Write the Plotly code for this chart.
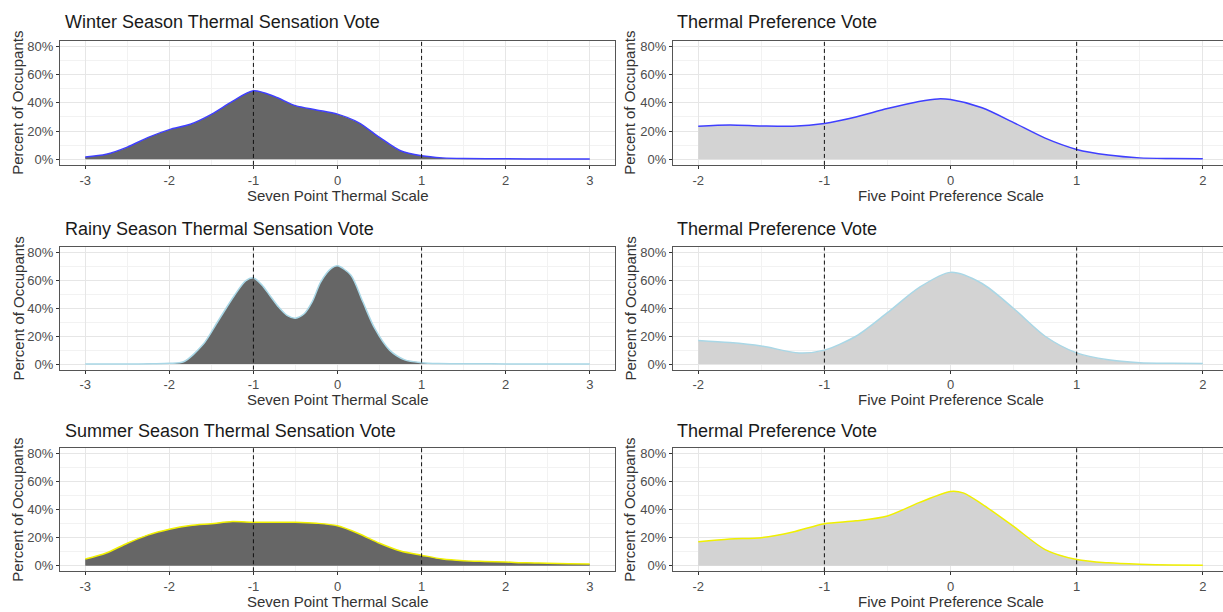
import plotly.graph_objects as go

# ---------------- data ----------------
# Seven point thermal sensation scale (left column)
winter_tsv_x = [-3, -2.75, -2.5, -2.25, -2, -1.75, -1.5, -1.25, -1, -0.75, -0.5, -0.25, 0,
                0.25, 0.5, 0.75, 1, 1.25, 1.5, 2, 2.5, 3]
winter_tsv_y = [1.6, 3.5, 8.6, 15.5, 21, 24.8, 31.8, 41, 48.5, 44.5, 38, 35, 32,
                26, 15.5, 6, 2.5, 1.0, 0.5, 0.3, 0.2, 0.2]

rainy_tsv_x = [-3, -2.5, -2.2, -2.0, -1.83, -1.6, -1.42, -1.23, -1.09, -1.0, -0.9, -0.8, -0.7,
               -0.6, -0.5, -0.4, -0.3, -0.2, -0.07, 0, 0.16, 0.3, 0.44, 0.62, 0.8, 1.0, 1.2, 2, 3]
rainy_tsv_y = [0, 0, 0.2, 0.5, 1.6, 14, 31, 49, 60, 62, 57, 49, 41,
               35, 33, 36, 45, 59, 69, 70.7, 64, 45, 26, 10, 3, 1.0, 0.4, 0.1, 0]

summer_tsv_x = [-3, -2.75, -2.5, -2.25, -2, -1.75, -1.5, -1.25, -1, -0.75, -0.5, -0.25, 0,
                0.25, 0.5, 0.75, 1, 1.25, 1.5, 1.75, 2, 2.25, 2.5, 2.75, 3]
summer_tsv_y = [4.7, 9, 16, 22, 26, 28.7, 30, 31.5, 31, 31, 31, 30.3, 28.5,
                23, 16, 10.5, 7.5, 4.7, 3.5, 3, 2.6, 2, 1.8, 1.4, 1.2]

# Five point thermal preference scale (right column)
winter_tpv_x = [-2, -1.75, -1.5, -1.25, -1, -0.75, -0.5, -0.25, -0.1, 0, 0.25, 0.5, 0.75,
                1, 1.25, 1.5, 1.75, 2]
winter_tpv_y = [23.4, 24.3, 23.6, 23.4, 25.4, 30, 36, 41, 42.8, 42.3, 36.5, 26, 15,
                7, 3, 1, 0.5, 0.3]

rainy_tpv_x = [-2, -1.75, -1.5, -1.2, -1, -0.75, -0.5, -0.25, 0, 0.25, 0.5, 0.75, 1,
               1.25, 1.5, 1.75, 2]
rainy_tpv_y = [17, 15.5, 13, 8, 10, 20, 37, 55, 66, 58, 40, 20, 8,
               3, 1, 0.5, 0.3]

summer_tpv_x = [-2, -1.75, -1.5, -1.25, -1, -0.75, -0.5, -0.25, 0, 0.1, 0.25, 0.5, 0.75,
                1, 1.25, 1.5, 1.75, 2]
summer_tpv_y = [17, 19, 20, 24, 30, 32, 35.5, 45, 53, 52, 44, 28, 11.5,
                4.4, 2, 1, 0.5, 0.3]

row_titles_left = ["Winter Season Thermal Sensation Vote",
                   "Rainy Season Thermal Sensation Vote",
                   "Summer Season Thermal Sensation Vote"]
row_title_right = "Thermal Preference Vote"
x_title_left = "Seven Point Thermal Scale"
x_title_right = "Five Point Preference Scale"
y_title = "Percent of Occupants"
x_tick_vals_left = [-3, -2, -1, 0, 1, 2, 3]
x_tick_text_left = ["-3", "-2", "-1", "0", "1", "2", "3"]
x_tick_vals_right = [-2, -1, 0, 1, 2]
x_tick_text_right = ["-2", "-1", "0", "1", "2"]
y_tick_vals = [0, 0.2, 0.4, 0.6, 0.8]
y_tick_text = ["0%", "20%", "40%", "60%", "80%"]
ref_lines = [-1, 1]

left_series = [(winter_tsv_x, winter_tsv_y), (rainy_tsv_x, rainy_tsv_y), (summer_tsv_x, summer_tsv_y)]
right_series = [(winter_tpv_x, winter_tpv_y), (rainy_tpv_x, rainy_tpv_y), (summer_tpv_x, summer_tpv_y)]
line_colors = ["#3f3fff", "#a9d7e6", "#f0f000"]

# ---------------- layout geometry (pixels) ----------------
W, H = 1223, 612
FONT = "Liberation Sans, Arial, sans-serif"
left_dom = [60 / W, 615 / W]
right_dom = [673 / W, 1.0]
rows_px = [(39, 164), (247, 370), (449, 573)]  # (top, bottom)
title_y_px = [20, 228, 432]
xtitle_y_px = [195, 400, 603]

def px_x(p):
    return p / W

def px_y(p):
    return 1 - p / H

fig = go.Figure()
annotations = []

axis_common = dict(
    showline=True, linecolor="#555555", linewidth=1.2,
    ticks="outside", ticklen=3, tickcolor="#333333", tickwidth=1,
    gridcolor="#e6e6e6", gridwidth=1,
    tickfont=dict(family=FONT, size=13, color="#4d4d4d"),
    zeroline=False, showgrid=True,
)

idx = 0
for r in range(3):
    top, bot = rows_px[r]
    ydom = [1 - bot / H, 1 - top / H]
    for c in range(2):
        idx += 1
        xa = "x" if idx == 1 else f"x{idx}"
        ya = "y" if idx == 1 else f"y{idx}"
        xs, ys = (left_series if c == 0 else right_series)[r]
        fill = "#666666" if c == 0 else "#d3d3d3"
        fig.add_trace(go.Scatter(
            x=xs, y=[v / 100 for v in ys], mode="lines",
            line=dict(color=line_colors[r], width=1.5, shape="spline", smoothing=0.8),
            fill="tozeroy", fillcolor=fill, xaxis=xa, yaxis=ya, showlegend=False,
            hoverinfo="skip",
        ))
        for xv in ref_lines:
            fig.add_shape(type="line", xref=xa, yref=f"{ya} domain", x0=xv, x1=xv, y0=0, y1=1,
                          line=dict(color="#111111", width=1, dash="4px,3px"))
        xkey = "xaxis" if idx == 1 else f"xaxis{idx}"
        ykey = "yaxis" if idx == 1 else f"yaxis{idx}"
        if c == 0:
            xr = [-3.3, 3.3]
            xdom = left_dom
            tv, tt = x_tick_vals_left, x_tick_text_left
        else:
            xr = [-2.2, 2.16]
            xdom = right_dom
            tv, tt = x_tick_vals_right, x_tick_text_right
        fig.update_layout(**{
            xkey: dict(axis_common, domain=xdom, range=xr, anchor=ya,
                       tickvals=tv, ticktext=tt, mirror=True,
                       minor=dict(dtick=0.5, tick0=0, showgrid=True, gridcolor="#f2f2f2", ticks="")),
            ykey: dict(axis_common, domain=ydom, range=[-0.04, 0.84], anchor=xa,
                       tickvals=y_tick_vals, ticktext=y_tick_text,
                       mirror=(c == 0),
                       minor=dict(tickvals=[0.1, 0.3, 0.5, 0.7], showgrid=True,
                                  gridcolor="#f2f2f2", ticks="")),
        })
        # titles
        title_text = row_titles_left[r] if c == 0 else row_title_right
        annotations.append(dict(text=title_text, xref="paper", yref="paper",
                                x=px_x(63 if c == 0 else 675), y=px_y(title_y_px[r]),
                                xanchor="left", yanchor="middle", showarrow=False,
                                font=dict(family=FONT, size=18, color="#1a1a1a")))
        xcen = (xdom[0] + (xdom[1] if c == 0 else 1228 / W)) / 2
        annotations.append(dict(text=x_title_left if c == 0 else x_title_right,
                                xref="paper", yref="paper", x=xcen, y=px_y(xtitle_y_px[r]),
                                xanchor="center", yanchor="middle", showarrow=False,
                                font=dict(family=FONT, size=15, color="#333333")))
        annotations.append(dict(text=y_title, xref="paper", yref="paper",
                                x=px_x(18 if c == 0 else 630), y=(ydom[0] + ydom[1]) / 2,
                                xanchor="center", yanchor="middle", textangle=-90,
                                showarrow=False,
                                font=dict(family=FONT, size=15, color="#333333")))

fig.update_layout(
    width=W, height=H, autosize=False,
    margin=dict(l=0, r=0, t=0, b=0),
    paper_bgcolor="white", plot_bgcolor="white",
    annotations=annotations,
    font=dict(family=FONT),
)

fig.write_html("out.html",
               config={"displayModeBar": False},
               post_script="document.body.style.margin='0';document.body.style.overflow='hidden';")
